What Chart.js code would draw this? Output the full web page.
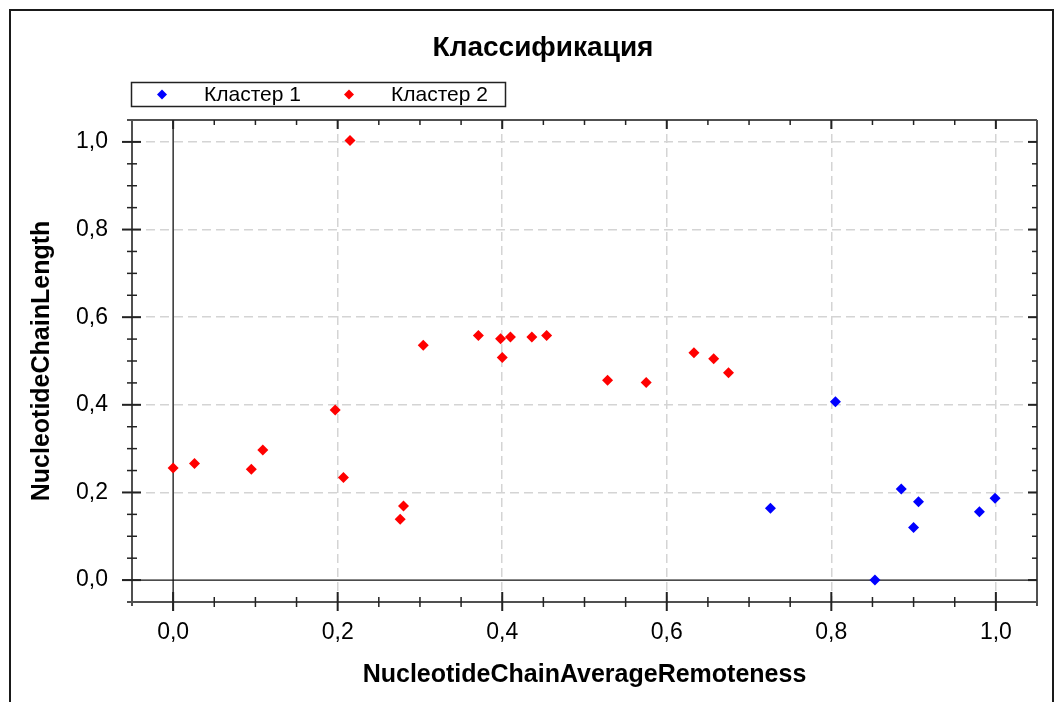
<!DOCTYPE html>
<html>
<head>
<meta charset="utf-8">
<script src="https://cdn.jsdelivr.net/npm/chart.js@4.4.0/dist/chart.umd.min.js"></script>
<style>
  html, body { margin: 0; padding: 0; background: #fff; }
  canvas { display: block; }
</style>
</head>
<body>
<canvas id="myChart" width="1064" height="702"></canvas>
<script>
var chartTitle = 'Классификация';
var seriesNames = ['Кластер 1', 'Кластер 2'];
var seriesColors = ['#0000ff', '#ff0000'];
var cluster1X = [0.726, 0.805, 0.853, 0.885, 0.900, 0.906, 0.980, 0.999];
var cluster1Y = [0.164, 0.407, 0.000, 0.208, 0.120, 0.179, 0.156, 0.187];
var cluster2X = [0.000, 0.026, 0.095, 0.109, 0.197, 0.207, 0.215, 0.276, 0.280, 0.304, 0.371,
                 0.398, 0.400, 0.410, 0.436, 0.454, 0.528, 0.575, 0.633, 0.657, 0.675];
var cluster2Y = [0.256, 0.266, 0.253, 0.297, 0.388, 0.234, 1.003, 0.139, 0.169, 0.536, 0.558,
                 0.551, 0.508, 0.555, 0.555, 0.558, 0.456, 0.451, 0.519, 0.505, 0.473];
var xTicks = [0, 0.2, 0.4, 0.6, 0.8, 1.0];
var yTicks = [0, 0.2, 0.4, 0.6, 0.8, 1.0];
var xTitle = 'NucleotideChainAverageRemoteness';
var yTitle = 'NucleotideChainLength';

var FONT = '"Liberation Sans", Arial, sans-serif';

function points(xs, ys) {
  return xs.map(function (x, i) { return {x: x, y: ys[i]}; });
}

function line(ctx, x1, y1, x2, y2) {
  ctx.beginPath();
  ctx.moveTo(x1, y1);
  ctx.lineTo(x2, y2);
  ctx.stroke();
}

function diamond(ctx, x, y, r) {
  ctx.beginPath();
  ctx.moveTo(x, y - r);
  ctx.lineTo(x + r, y);
  ctx.lineTo(x, y + r);
  ctx.lineTo(x - r, y);
  ctx.closePath();
  ctx.fill();
}

function comma(v) { return Number(v).toFixed(1).replace('.', ','); }

// frame, title and boxed legend
var decor = {
  id: 'decor',
  beforeDraw: function (chart) {
    var ctx = chart.ctx;
    ctx.save();
    ctx.fillStyle = '#fff';
    ctx.fillRect(0, 0, chart.width, chart.height);

    ctx.strokeStyle = '#1a1a1a';
    ctx.lineWidth = 2;
    ctx.beginPath();
    ctx.moveTo(10, chart.height);
    ctx.lineTo(10, 10);
    ctx.lineTo(1053, 10);
    ctx.lineTo(1053, chart.height);
    ctx.stroke();

    ctx.fillStyle = '#000';
    ctx.font = 'bold 28px ' + FONT;
    ctx.textAlign = 'center';
    ctx.textBaseline = 'middle';
    ctx.fillText(chartTitle, 543, 48);

    ctx.lineWidth = 1.5;
    ctx.strokeStyle = '#222';
    ctx.strokeRect(131.5, 82.5, 374, 24);
    ctx.font = '21px ' + FONT;
    ctx.textAlign = 'left';
    chart.data.datasets.forEach(function (ds, i) {
      var mx = 162 + i * 187;
      ctx.fillStyle = ds.backgroundColor;
      diamond(ctx, mx, 94.5, 5);
      ctx.fillStyle = '#000';
      ctx.fillText(ds.label, mx + 42, 95);
    });
    ctx.restore();
  },
  beforeDatasetsDraw: function (chart) {
    var ctx = chart.ctx, a = chart.chartArea;
    var xs = chart.scales.x, ys = chart.scales.y;
    ctx.save();

    // zero lines
    ctx.strokeStyle = '#111';
    ctx.lineWidth = 1.3;
    var x0 = xs.getPixelForValue(0), y0 = ys.getPixelForValue(0);
    line(ctx, x0, a.top, x0, a.bottom + 9);
    line(ctx, a.left - 10, y0, a.right, y0);

    // box axes
    ctx.strokeStyle = '#505050';
    ctx.lineWidth = 2;
    line(ctx, a.left, a.top, a.left, a.bottom + 4);
    line(ctx, a.right, a.top, a.right, a.bottom + 4);
    line(ctx, a.left - 5, a.top, a.right, a.top);
    line(ctx, a.left - 5, a.bottom, a.right, a.bottom);

    // major / minor ticks every 0.05
    ctx.strokeStyle = '#222';
    for (var i = -1; i <= 21; i++) {
      var v = i * 0.05, major = i % 4 === 0;
      ctx.lineWidth = major ? 2 : 1.5;
      var px = xs.getPixelForValue(v);
      if (px > a.left + 1 && px < a.right - 1) {
        if (major) {
          line(ctx, px, a.bottom - 10, px, a.bottom + 9);
          line(ctx, px, a.top, px, a.top + 9);
        } else {
          line(ctx, px, a.bottom - 5, px, a.bottom + 5);
          line(ctx, px, a.top, px, a.top + 5);
        }
      }
      var py = ys.getPixelForValue(v);
      if (py > a.top + 1 && py < a.bottom - 1) {
        if (major) {
          line(ctx, a.left - 10, py, a.left + 9, py);
          line(ctx, a.right - 9, py, a.right, py);
        } else {
          line(ctx, a.left - 5, py, a.left + 5, py);
          line(ctx, a.right - 5, py, a.right, py);
        }
      }
    }
    ctx.restore();
  }
};

function gridColor(c) {
  return c.tick && c.tick.value === 0 ? 'rgba(0,0,0,0)' : '#d4d4d4';
}

var ctx = document.getElementById('myChart').getContext('2d');
var myChart = new Chart(ctx, {
  type: 'scatter',
  data: {
    datasets: [{
      label: seriesNames[0],
      data: points(cluster1X, cluster1Y),
      backgroundColor: seriesColors[0]
    }, {
      label: seriesNames[1],
      data: points(cluster2X, cluster2Y),
      backgroundColor: seriesColors[1]
    }]
  },
  options: {
    responsive: false,
    animation: false,
    events: [],
    devicePixelRatio: 1,
    layout: { padding: { left: 0, right: 27, top: 120, bottom: 0 } },
    elements: {
      point: { pointStyle: 'rectRot', radius: 5.5, borderWidth: 0 }
    },
    plugins: {
      legend: { display: false },
      tooltip: { enabled: false }
    },
    scales: {
      x: {
        type: 'linear',
        min: -0.05,
        max: 1.05,
        afterBuildTicks: function (s) { s.ticks = xTicks.map(function (v) { return {value: v}; }); },
        afterFit: function (s) { s.height = 100; },
        grid: { color: gridColor, lineWidth: 1.5, drawTicks: false },
        border: { display: false, dash: [9, 5] },
        ticks: {
          padding: 17,
          color: '#000',
          font: { family: FONT, size: 23 },
          callback: comma
        },
        title: {
          display: true,
          text: xTitle,
          color: '#000',
          font: { family: FONT, size: 25, weight: 'bold' },
          padding: { top: 4, bottom: 12 }
        }
      },
      y: {
        type: 'linear',
        min: -0.05,
        max: 1.05,
        afterBuildTicks: function (s) { s.ticks = yTicks.map(function (v) { return {value: v}; }); },
        afterFit: function (s) { s.width = 132; },
        grid: { color: gridColor, lineWidth: 1.5, drawTicks: false },
        border: { display: false, dash: [9, 5] },
        ticks: {
          padding: 24,
          color: '#000',
          font: { family: FONT, size: 23 },
          callback: comma
        },
        title: {
          display: true,
          text: yTitle,
          color: '#000',
          font: { family: FONT, size: 25, weight: 'bold' },
          padding: { top: 27, bottom: 4 }
        }
      }
    }
  },
  plugins: [decor]
});
</script>
</body>
</html>
